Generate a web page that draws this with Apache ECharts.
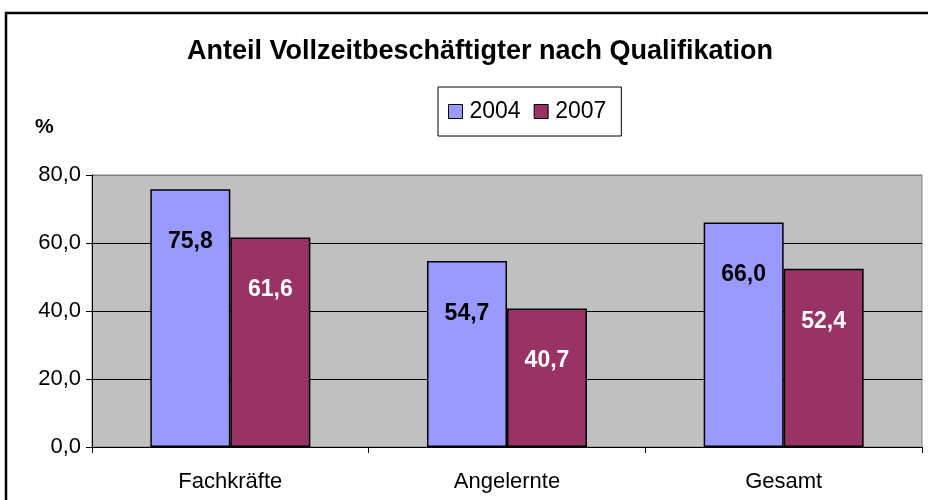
<!DOCTYPE html>
<html><head><meta charset="utf-8">
<script src="https://cdn.jsdelivr.net/npm/echarts@6/dist/echarts.min.js"></script>
<style>html,body{margin:0;padding:0;background:#fff}#c{width:928px;height:500px}</style>
</head><body><div id="c"></div>
<script>
const categories = ['Fachkräfte', 'Angelernte', 'Gesamt'];
const seriesNames = ['2004', '2007'];
const values2004 = [75.8, 54.7, 66.0];
const values2007 = [61.6, 40.7, 52.4];
const yTicks = [0, 20, 40, 60, 80];

const chart = echarts.init(document.getElementById('c'), null, {renderer: 'canvas'});
const fmt = v => v.toFixed(1).replace('.', ',');
const font = '"Liberation Sans", Arial, sans-serif';
function mk(name, data, color, labelColor) {
  return {
    name, type: 'bar', data, barWidth: 80, barGap: '0%',
    itemStyle: {color, borderColor: '#000', borderWidth: 1.5},
    label: {show: true, position: 'insideTop', distance: 41,
      formatter: p => fmt(p.value), color: labelColor,
      fontFamily: font, fontWeight: 'bold', fontSize: 23}
  };
}
chart.setOption({
  animation: false,
  backgroundColor: '#fff',
  title: {text: 'Anteil Vollzeitbeschäftigter nach Qualifikation', left: 475, top: 33, textAlign: 'center',
    textStyle: {fontFamily: font, fontWeight: 'bold', fontSize: 27, color: '#000'}},
  legend: {data: seriesNames, left: 438, top: 87,
    padding: [13, 15, 13, 10], itemWidth: 14, itemHeight: 14, itemGap: 13,
    borderColor: '#000', borderWidth: 1, backgroundColor: '#fff',
    icon: 'rect',
    textStyle: {fontFamily: font, fontSize: 23, color: '#000', padding: [0,0,0,2]},
    itemStyle: {borderColor: '#000', borderWidth: 1}},
  graphic: [
    {type: 'rect', shape: {x: 6, y: 13, width: 1000, height: 600}, style: {fill: 'none', stroke: '#000', lineWidth: 2.5}, z: 100},
    {type: 'text', left: 35, top: 117, style: {text: '%', font: 'bold 21px ' + font, fill: '#000'}}
  ],
  grid: {left: 92, right: 6, top: 175, bottom: 53, show: true, backgroundColor: '#C0C0C0', borderColor: '#808080', borderWidth: 1},
  xAxis: {type: 'category', data: categories,
    axisLine: {lineStyle: {color: '#000', width: 1}},
    axisTick: {show: true, length: 6, lineStyle: {color: '#000'}},
    axisLabel: {margin: 24, fontFamily: font, fontSize: 22, color: '#000'}},
  yAxis: {type: 'value', min: yTicks[0], max: yTicks[yTicks.length - 1], interval: 20,
    axisLine: {show: true, lineStyle: {color: '#000', width: 1}},
    axisTick: {show: true, length: 6, lineStyle: {color: '#000'}},
    axisLabel: {margin: 11, formatter: v => fmt(v), fontFamily: font, fontSize: 22, color: '#000'},
    splitLine: {show: true, lineStyle: {color: ['#000', '#000', '#000', '#000', '#808080'], width: 1}}},
  series: [mk(seriesNames[0], values2004, '#9999FF', '#000'), mk(seriesNames[1], values2007, '#993366', '#fff')]
});
</script></body></html>
